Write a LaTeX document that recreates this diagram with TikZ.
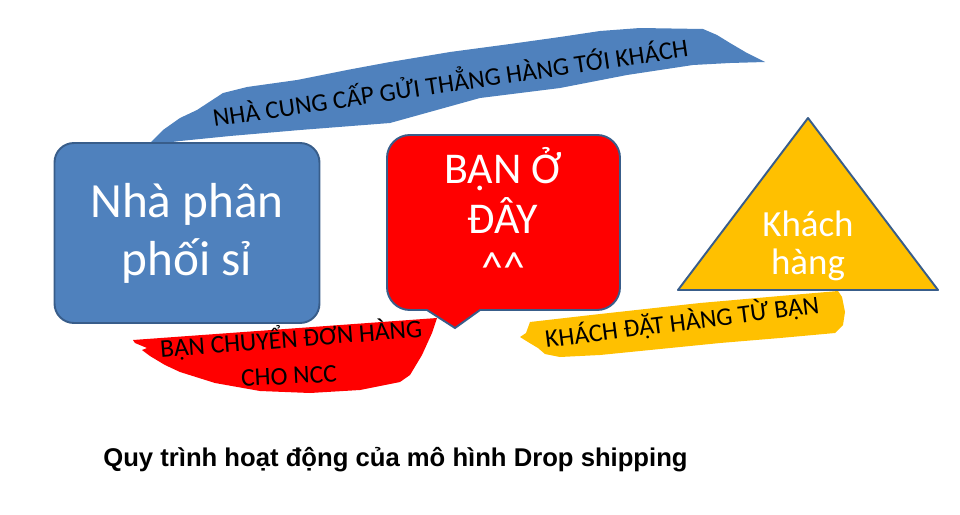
\documentclass[tikz,border=0pt]{standalone}
\usepackage{fontspec}
\setmainfont{Carlito}
\newfontfamily\captionfont{Liberation Sans}

\begin{document}
\begin{tikzpicture}[x = {(0.02cm,0)}, y = {(0,-0.02cm)},
	distbox/.style={rectangle, rounded corners=11pt, fill=mblue, draw=mborder, line width=1.1pt,
		minimum width=5.3cm, minimum height=3.6cm, text=white, align=center,
		font=\fontsize{28}{33}\selectfont},
	bubble/.style={fill=red, draw=mborder, line width=1.1pt},
	tri/.style={fill=mgold, draw=mborder, line width=1.1pt, line join=round},
	whitetext/.style={text=white, align=center},
	flagtext/.style={text=black, align=center, font=\fontsize{14.5}{20}\selectfont}
	]
	\definecolor{mblue}{RGB}{79,129,189}
	\definecolor{mborder}{RGB}{56,93,138}
	\definecolor{mgold}{RGB}{255,192,0}
	\useasboundingbox (0,0) rectangle (960,514);
	
	% Blue flag (supplier ships to customer)
	\fill[mblue] (148,145) -- (163,130) -- (180,118) -- (197,110) -- (223,93) -- (247,87)
	-- (297,80) -- (347,70) -- (390,62) -- (450,52) -- (510,44) -- (560,37) -- (600,31)
	-- (640,28) -- (703,29) -- (717,35) -- (730,43) -- (747,53) -- (765,62)
	-- (730,63) -- (693,65) -- (627,75) -- (560,88) -- (480,98) -- (390,123)
	-- (300,130) -- (230,136) -- (180,141) -- cycle;
	\node[flagtext, rotate=8.4] (ship) at (450,80) {NHÀ CUNG CẤP GỬI THẲNG HÀNG TỚI KHÁCH};
	
	% Red flag (order to supplier)
	\fill[red] (133,340) -- (437,318) -- (432,333) -- (422,355) -- (410,375) -- (400,382)
	-- (360,390) -- (310,393) -- (260,391) -- (215,383) -- (180,372) -- (165,365)
	-- (150,356) -- (142,350) -- (147,348) -- (135,343) -- cycle;
	\node[flagtext, rotate=4.5] (order) at (291,338) {BẠN CHUYỂN ĐƠN HÀNG};
	\node[flagtext, rotate=3] (ncc) at (289,376) {CHO NCC};
	
	% Yellow flag (customer orders)
	\fill[mgold] (530,322) -- (600,314) -- (700,303) -- (780,296) -- (838,291) -- (842,297)
	-- (845,312) -- (843,325) -- (835,333) -- (780,338) -- (720,343) -- (660,349)
	-- (600,355) -- (560,357) -- (545,354) -- (538,348) -- (528,342) -- (520,337)
	-- (526,333) -- cycle;
	\node[flagtext, rotate=7.3] (buy) at (682,322) {KHÁCH ĐẶT HÀNG TỪ BẠN};
	
	% Wholesale distributor
	\node[distbox] (dist) at (187,233) {Nhà phân\\phối sỉ};
	
	% Speech bubble
	\coordinate (tip) at (455,328);
	\draw[bubble] (tip) -- (480,310) [rounded corners=13pt] -- (620,310) -- (620,135)
	-- (387,135) -- (387,310) [sharp corners] -- (427,310) -- cycle;
	\node[whitetext, font=\fontsize{25}{28}\selectfont] (you) at (503,215)
	{BẠN Ở\\ĐÂY\\\textasciicircum\textasciicircum};
	
	% Customer triangle
	\coordinate (apex) at (808,118);
	\coordinate (right) at (938,290);
	\coordinate (left) at (678,290);
	\draw[tri] (apex) -- (right) -- (left) -- cycle;
	\node[whitetext, font=\fontsize{21}{22}\selectfont] (cust) at (808,246) {Khách\\hàng};
	
	% Caption
	\node[anchor=base west, inner sep=0pt, font=\captionfont\bfseries\fontsize{14.6}{17}\selectfont]
	(title) at (103,466) {Quy trình hoạt động của mô hình Drop shipping};
	
\end{tikzpicture}
\end{document}
